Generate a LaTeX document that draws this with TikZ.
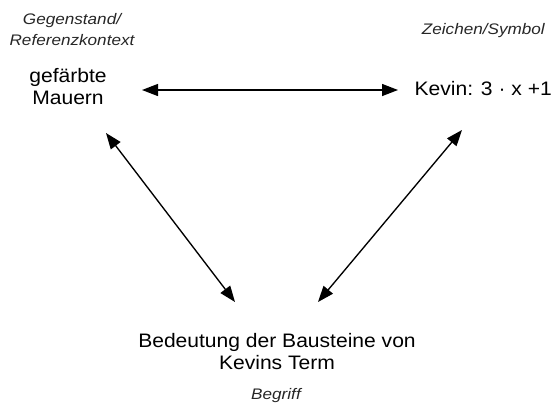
\documentclass[tikz,border=0pt]{standalone}
\usepackage{fontspec}
\setmainfont{Liberation Sans}[FakeStretch=1.08]
\newfontfamily\labelfont{Liberation Sans}[FakeStretch=1.12]
\usetikzlibrary{arrows.meta}
\begin{document}
\begin{tikzpicture}[x=1pt,y=-1pt,
  concept/.style={align=center,inner sep=0pt,font=\fontsize{19.5}{22}\selectfont},
  role/.style={align=center,inner sep=0pt,font=\labelfont\itshape\fontsize{15.3}{21}\selectfont,text=black!85},
  link/.style={line width=1.35pt,{Triangle[length=16pt,width=12pt]}-{Triangle[length=16pt,width=12pt]}}]
  \useasboundingbox (0,0) rectangle (553,408);
  % corner labels
  \node[role] (objrole) at (72,30) {Gegenstand/\\Referenzkontext};
  \node[role,anchor=east] (symrole) at (545,31) {Zeichen/Symbol};
  \node[role] (conrole) at (276,396) {Begriff};
  % the three corners of the triangle
  \node[concept] (obj) at (68,87) {gefärbte\\Mauern};
  \node[concept,anchor=east] (sym) at (552,89) {Kevin: 3 · x +1};
  \node[concept] (con) at (277,352) {Bedeutung der Bausteine von\\Kevins Term};
  % arrow ends
  \coordinate (objR) at (142,90);
  \coordinate (symL) at (398,90);
  \coordinate (objD) at (106,133);
  \coordinate (conL) at (235,302);
  \coordinate (symD) at (462,130);
  \coordinate (conR) at (318,302);
  \draw[link] (objR) -- (symL);
  \draw[link] (objD) -- (conL);
  \draw[link] (symD) -- (conR);
\end{tikzpicture}
\end{document}
